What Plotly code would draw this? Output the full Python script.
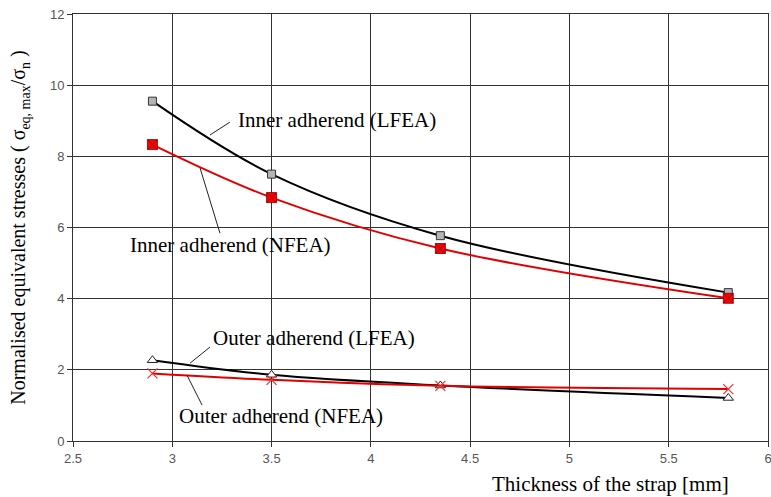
import plotly.graph_objects as go

thickness = [2.9, 3.5, 4.35, 5.8]
inner_lfea = [9.55, 7.5, 5.77, 4.17]
inner_nfea = [8.33, 6.84, 5.41, 4.01]
outer_lfea = [2.27, 1.86, 1.56, 1.21]
outer_nfea = [1.9, 1.72, 1.55, 1.46]

x_ticks = [2.5, 3, 3.5, 4, 4.5, 5, 5.5, 6]
x_tick_labels = ["2.5", "3", "3.5", "4", "4.5", "5", "5.5", "6"]
y_ticks = [0, 2, 4, 6, 8, 10, 12]

labels = ["Inner adherend (LFEA)", "Inner adherend (NFEA)",
          "Outer adherend (LFEA)", "Outer adherend (NFEA)"]
label_pos = [(3.33, 9.02), (2.787, 5.51), (3.205, 2.89), (3.034, 0.70)]
leaders = [((3.29, 8.96), (3.19, 8.60)),
           ((3.24, 5.84), (3.14, 7.67)),
           ((3.19, 2.64), (3.09, 2.19)),
           ((3.15, 1.01), (3.074, 1.85))]

serif = "Liberation Serif"

fig = go.Figure()
fig.add_trace(go.Scatter(x=thickness, y=inner_lfea, mode="lines+markers",
                         line=dict(color="black", width=2, shape="spline"),
                         marker=dict(symbol="square", size=8, color="#b5b5b5",
                                     line=dict(color="#333", width=1))))
fig.add_trace(go.Scatter(x=thickness, y=inner_nfea, mode="lines+markers",
                         line=dict(color="#e00000", width=2, shape="spline"),
                         marker=dict(symbol="square-x", size=10, color="#ff0000",
                                     line=dict(color="#7a0000", width=0.8))))
fig.add_trace(go.Scatter(x=thickness, y=outer_lfea, mode="lines+markers",
                         line=dict(color="black", width=2, shape="spline"),
                         marker=dict(symbol="triangle-up", size=9, color="white",
                                     line=dict(color="#222", width=1))))
fig.add_trace(go.Scatter(x=thickness, y=outer_nfea, mode="lines+markers",
                         line=dict(color="#e00000", width=2, shape="spline"),
                         marker=dict(symbol="x-thin", size=10,
                                     line=dict(color="#f03030", width=1.2))))

for text, (tx, ty) in zip(labels, label_pos):
    fig.add_annotation(x=tx, y=ty, text=text, showarrow=False, xanchor="left",
                       yanchor="middle", xshift=-2,
                       font=dict(family=serif, size=21, color="black"))
for (a, b) in leaders:
    fig.add_shape(type="line", x0=a[0], y0=a[1], x1=b[0], y1=b[1],
                  line=dict(color="#222", width=1))

fig.add_annotation(xref="paper", yref="paper", x=0.947, y=-0.1007,
                   text="Thickness of the strap [mm]",
                   showarrow=False, xanchor="right", yanchor="middle",
                   font=dict(family=serif, size=21, color="black"))

fig.update_layout(
    width=771, height=497,
    margin=dict(l=73, r=3, t=14, b=56, autoexpand=False),
    paper_bgcolor="white", plot_bgcolor="white",
    showlegend=False,
    xaxis=dict(range=[2.5, 6], tickvals=x_ticks, ticktext=x_tick_labels,
               showgrid=True, gridcolor="#333", gridwidth=1,
               showline=True, linecolor="#333", mirror=True,
               ticks="outside", ticklen=5, tickcolor="#333", automargin=False,
               ticklabeloverflow="allow",
               tickfont=dict(family="Liberation Sans", size=13, color="#555"),
               zeroline=False),
    yaxis=dict(range=[0, 12], tickvals=y_ticks,
               showgrid=True, gridcolor="#333", gridwidth=1,
               showline=True, linecolor="#333", mirror=True,
               ticks="outside", ticklen=5, tickcolor="#333", automargin=False,
               ticklabeloverflow="allow",
               tickfont=dict(family="Liberation Sans", size=13, color="#555"),
               zeroline=False,
               title=dict(text="Normalised equivalent stresses ( σ<sub>eq, max</sub>/σ<sub>n</sub> )",
                          font=dict(family=serif, size=20, color="black"), standoff=18)),
)

fig.write_html("out.html", config={"displayModeBar": False},
               post_script="document.body.style.margin='0px';document.body.style.overflow='hidden';")
